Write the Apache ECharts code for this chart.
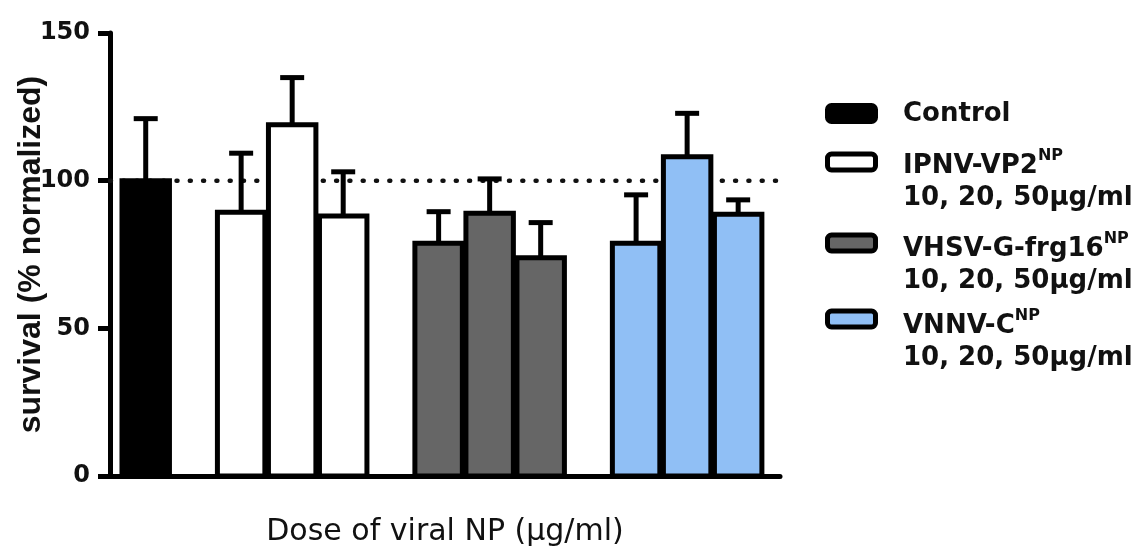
<!DOCTYPE html>
<html>
<head>
<meta charset="utf-8">
<script src="https://cdn.jsdelivr.net/npm/echarts@6/dist/echarts.min.js"></script>
<style>
html, body { margin: 0; padding: 0; background: #fff; }
#chart { width: 1142px; height: 553px; }
</style>
</head>
<body>
<div id="chart"></div>
<script>
// ---- data ----
const groupNames = ['Control', 'IPNV-VP2', 'VHSV-G-frg16', 'VNNV-C'];
const doseLabel = '10, 20, 50μg/ml';
const controlMean = [100];
const controlSD = [21];
const ipnvMean = [89.3, 118.9, 88.0];
const ipnvSD = [20.0, 16.0, 15.0];
const vhsvMean = [78.8, 89.0, 73.9];
const vhsvSD = [10.7, 11.6, 11.9];
const vnnvMean = [78.8, 108.1, 88.6];
const vnnvSD = [16.4, 14.7, 4.9];
const yTicks = [0, 50, 100, 150];
const referenceLevel = 100;

// ---- layout helpers ----
const GROUP_GAP = 0.87;
function slot(g, d) {
  return g === 0 ? d : (g - 1) * (3 + GROUP_GAP) + 1 + GROUP_GAP + d;
}
const X_MIN = -0.7, X_MAX = 12.43;
const colors = ['#000000', '#ffffff', '#666666', '#90bff5'];
const means = [controlMean, ipnvMean, vhsvMean, vnnvMean];
const sds = [controlSD, ipnvSD, vhsvSD, vnnvSD];

function renderBar(color) {
  return function (params, api) {
    const x = api.value(0), m = api.value(1), sd = api.value(2);
    const top = api.coord([x, m]);
    const base = api.coord([x, 0]);
    const errTop = api.coord([x, m + sd]);
    const w = api.size([1, 0])[0] * 0.93;
    const cap = 24;
    return {
      type: 'group',
      children: [
        { type: 'line', shape: { x1: top[0], y1: top[1], x2: errTop[0], y2: errTop[1] },
          style: { stroke: '#000', lineWidth: 5 } },
        { type: 'line', shape: { x1: errTop[0] - cap / 2, y1: errTop[1], x2: errTop[0] + cap / 2, y2: errTop[1] },
          style: { stroke: '#000', lineWidth: 5 } },
        { type: 'rect', shape: { x: top[0] - w / 2, y: top[1], width: w, height: base[1] - top[1] },
          style: { fill: color, stroke: '#000', lineWidth: 5, lineJoin: 'miter' } }
      ]
    };
  };
}

const barSeries = groupNames.map((name, g) => ({
  name: name,
  type: 'custom',
  z: 3,
  silent: true,
  renderItem: renderBar(colors[g]),
  encode: { x: 0, y: [1, 2] },
  data: means[g].map((m, d) => [slot(g, d), m, sds[g][d]])
}));

const dotted = {
  type: 'line',
  z: 1,
  silent: true,
  symbol: 'none',
  data: [[X_MIN, referenceLevel], [X_MAX, referenceLevel]],
  lineStyle: { color: '#111', width: 4.5, type: [1, 12.3], cap: 'round' }
};

// ---- legend (graphic) ----
const legendFont = 'DejaVu Sans';
const legendItems = [
  { label: groupNames[0], sup: '', second: '', y: 114.5 },
  { label: groupNames[1], sup: 'NP', second: doseLabel, y: 166 },
  { label: groupNames[2], sup: 'NP', second: doseLabel, y: 249 },
  { label: groupNames[3], sup: 'NP', second: doseLabel, y: 326 }
];
const iconY = [113.5, 162, 243, 319];
const graphics = [];
legendItems.forEach((it, i) => {
  graphics.push({
    type: 'rect',
    shape: { x: 827.5, y: iconY[i] - 8, width: 48, height: 16, r: 4 },
    style: { fill: colors[i], stroke: '#000', lineWidth: 5 }
  });
  graphics.push({
    type: 'text',
    x: 903, y: it.y,
    style: {
      text: it.sup ? '{m|' + it.label + '}{s|' + it.sup + '}' : '{m|' + it.label + '}',
      fill: '#111',
      verticalAlign: 'middle',
      align: 'left',
      rich: {
        m: { fontFamily: legendFont, fontWeight: 'bold', fontSize: 26, lineHeight: 36, fill: '#111', color: '#111' },
        s: { fontFamily: legendFont, fontWeight: 'bold', fontSize: 16, lineHeight: 16, verticalAlign: 'top', fill: '#111', color: '#111' }
      }
    }
  });
  if (it.second) {
    graphics.push({
      type: 'text',
      x: 903, y: it.y + 32,
      style: {
        text: it.second, fill: '#111', verticalAlign: 'middle', align: 'left',
        fontFamily: legendFont, fontWeight: 'bold', fontSize: 26
      }
    });
  }
});

const chart = echarts.init(document.getElementById('chart'), null, { renderer: 'canvas' });
chart.setOption({
  backgroundColor: '#fff',
  animation: false,
  grid: { left: 110, right: 362, top: 33, bottom: 77, containLabel: false, outerBoundsMode: 'none' },
  xAxis: {
    type: 'value', min: X_MIN, max: X_MAX,
    axisLine: { show: true, onZero: false, lineStyle: { color: '#000', width: 5 } },
    axisTick: { show: false }, axisLabel: { show: false }, splitLine: { show: false },
    name: 'Dose of viral NP (μg/ml)', nameLocation: 'middle', nameGap: 41, nameMoveOverlap: false,
    nameTextStyle: { fontFamily: 'DejaVu Sans', fontSize: 30, color: '#111' }
  },
  yAxis: {
    type: 'value', min: yTicks[0], max: yTicks[yTicks.length - 1], interval: yTicks[1] - yTicks[0],
    axisLine: { show: true, onZero: false, lineStyle: { color: '#000', width: 5 } },
    axisTick: { show: true, length: 12, lineStyle: { color: '#000', width: 5 } },
    axisLabel: { margin: 20, fontFamily: 'DejaVu Sans', fontWeight: 'bold', fontSize: 24, color: '#111' },
    splitLine: { show: false },
    name: 'survival (% normalized)', nameLocation: 'middle', nameRotate: 90, nameGap: 63, nameMoveOverlap: false,
    nameTextStyle: { fontFamily: 'Liberation Sans', fontWeight: 'bold', fontSize: 32, color: '#111' }
  },
  series: [dotted].concat(barSeries),
  graphic: graphics
});
</script>
</body>
</html>
